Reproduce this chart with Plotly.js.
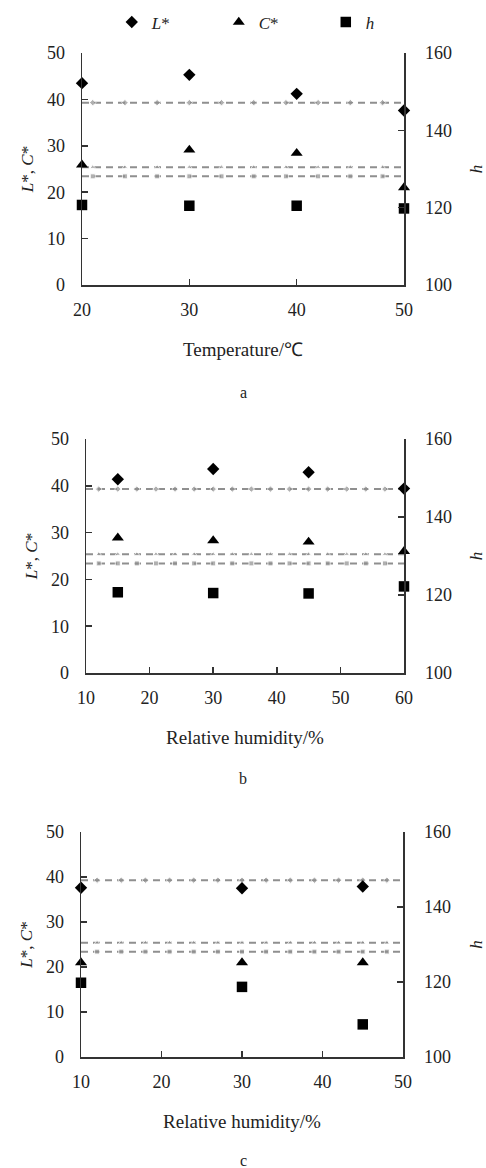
<!DOCTYPE html>
<html>
<head>
<meta charset="utf-8">
<script src="https://cdn.plot.ly/plotly-3.0.1.min.js"></script>
<style>html,body{margin:0;padding:0;background:#fff;}#chart{width:486px;height:1168px;}</style>
</head>
<body>
<div id="chart"></div>
<script>
// ---------- data ----------
// Panel a: temperature
const tempX = [20, 30, 40, 50];
const tempL = [43.5, 45.3, 41.2, 37.6];
const tempC = [25.9, 29.1, 28.4, 21.0];
const tempH = [120.7, 120.5, 120.5, 119.8];
const tempRefX = [20, 21, 24, 27, 30, 33, 36, 39, 42, 45, 48, 50];

// Panel b: relative humidity
const rhBX = [15, 30, 45, 60];
const rhBL = [41.4, 43.6, 42.9, 39.4];
const rhBC = [28.9, 28.3, 28.0, 26.0];
const rhBH = [120.7, 120.5, 120.4, 122.2];
const rhBRefX = [10, 12, 15, 18, 21, 24, 27, 30, 33, 36, 39, 42, 45, 48, 51, 54, 57, 60];

// Panel c: relative humidity
const rhCX = [10, 30, 45];
const rhCL = [37.6, 37.5, 37.9];
const rhCC = [21.0, 21.0, 21.0];
const rhCH = [119.8, 118.7, 108.7];
const rhCRefX = [10, 12, 15, 18, 21, 24, 27, 30, 33, 36, 39, 42, 45, 48, 50];

// Reference (control) levels
const refL = 39.3;
const refC = 25.4;
const refH = 128.1;

// Axis ticks / labels
const leftTicks = [0, 10, 20, 30, 40, 50];
const rightTicks = [100, 120, 140, 160];
const xTicksA = [20, 30, 40, 50];
const xTicksB = [10, 20, 30, 40, 50, 60];
const xTicksC = [10, 20, 30, 40, 50];
const xTitles = ['Temperature/℃', 'Relative humidity/%', 'Relative humidity/%'];
const panelLabels = ['a', 'b', 'c'];
const seriesNames = ['<i>L</i>*', '<i>C</i>*', '<i>h</i>'];

// ---------- styling ----------
const FONT = '"Liberation Serif", "Times New Roman", serif';
const INK = '#222';
const AX = '#333';
const GREY = '#8f8f8f';
const W = 486, H = 1168;

function px2x(p) { return p / W; }
function px2y(p) { return 1 - p / H; }

const panels = [
  { x: tempX, L: tempL, C: tempC, Hh: tempH, refX: tempRefX, range: [20, 50], ticks: xTicksA,
    box: { l: 82, r: 404, t: 53, b: 285 } },
  { x: rhBX, L: rhBL, C: rhBC, Hh: rhBH, refX: rhBRefX, range: [10, 60], ticks: xTicksB,
    box: { l: 86, r: 404, t: 439, b: 673 } },
  { x: rhCX, L: rhCL, C: rhCC, Hh: rhCH, refX: rhCRefX, range: [10, 50], ticks: xTicksC,
    box: { l: 81, r: 403, t: 832, b: 1057 } }
];

const traces = [];
const layout = {
  width: W, height: H,
  margin: { l: 0, r: 0, t: 0, b: 0, autoexpand: false },
  paper_bgcolor: '#fff', plot_bgcolor: 'rgba(0,0,0,0)',
  font: { family: FONT, size: 17, color: INK },
  showlegend: true,
  legend: {
    orientation: 'h', x: 0.230, y: px2y(22.5), xanchor: 'left', yanchor: 'middle',
    entrywidth: 62, entrywidthmode: 'pixels',
    font: { family: FONT, size: 17, color: INK }, bgcolor: 'rgba(0,0,0,0)',
    traceorder: 'normal'
  },
  annotations: []
};

const axCommon = {
  showline: true, linecolor: AX, linewidth: 1.5,
  ticks: 'inside', ticklen: 6, tickwidth: 1.5, tickcolor: AX,
  showgrid: false, zeroline: false, fixedrange: true,
  tickfont: { family: FONT, size: 18, color: INK }
};

panels.forEach((p, i) => {
  const xa = i === 0 ? 'x' : 'x' + (i + 1);
  const yL = i === 0 ? 'y' : 'y' + (2 * i + 1);
  const yR = 'y' + (2 * i + 2);
  const xKey = i === 0 ? 'xaxis' : 'xaxis' + (i + 1);
  const yLKey = i === 0 ? 'yaxis' : 'yaxis' + (2 * i + 1);
  const yRKey = 'yaxis' + (2 * i + 2);
  const b = p.box;

  layout[xKey] = Object.assign({}, axCommon, {
    domain: [px2x(b.l), px2x(b.r)], anchor: yL, range: p.range,
    tickmode: 'array', tickvals: p.ticks, ticklabelstandoff: 8,
    title: { text: xTitles[i], font: { family: FONT, size: 19, color: INK }, standoff: 23 }
  });
  layout[yLKey] = Object.assign({}, axCommon, {
    domain: [px2y(b.b), px2y(b.t)], anchor: xa, range: [0, 50],
    tickmode: 'array', tickvals: leftTicks, ticklabelstandoff: 12,
    title: { text: '<i>L</i>*, <i>C</i>*', font: { family: FONT, size: 17, color: INK }, standoff: 9 }
  });
  layout[yRKey] = Object.assign({}, axCommon, {
    domain: [px2y(b.b), px2y(b.t)], anchor: xa, overlaying: yL, side: 'right', range: [100, 160],
    tickmode: 'array', tickvals: rightTicks, ticklabelstandoff: 16,
    title: { text: '<i>h</i>', font: { family: FONT, size: 17, color: INK }, standoff: 27 }
  });

  layout.annotations.push({
    text: panelLabels[i], xref: 'paper', yref: 'paper',
    x: px2x(243), y: px2y([392, 778, 1160][i]), showarrow: false,
    font: { family: FONT, size: 16, color: INK }, xanchor: 'center', yanchor: 'middle'
  });

  const sizes = p.refX.map((v, k) => (k === 0 || k === p.refX.length - 1) ? 0 : 5);
  // reference lines
  const refs = [
    { y: p.refX.map(() => refL), sym: 'diamond', ya: yL },
    { y: p.refX.map(() => refC), sym: 'triangle-up', ya: yL },
    { y: p.refX.map(() => refH), sym: 'square', ya: yR }
  ];
  refs.forEach(r => {
    traces.push({
      type: 'scatter', mode: 'lines+markers', x: p.refX, y: r.y, xaxis: xa, yaxis: r.ya,
      line: { color: GREY, width: 2, dash: '7px,5px' },
      marker: { symbol: r.sym, size: sizes, color: GREY },
      showlegend: false, hoverinfo: 'skip', cliponaxis: false
    });
  });
  // data points
  const ser = [
    { y: p.L, sym: 'diamond', size: 9.5, ya: yL },
    { y: p.C, sym: 'triangle-up', size: 10.5, ya: yL },
    { y: p.Hh, sym: 'square', size: 10.5, ya: yR }
  ];
  ser.forEach((s, k) => {
    traces.push({
      type: 'scatter', mode: 'markers', x: p.x, y: s.y, xaxis: xa, yaxis: s.ya,
      name: seriesNames[k], marker: { symbol: s.sym, size: s.size, color: '#000' },
      showlegend: i === 0, cliponaxis: false
    });
  });
});

Plotly.newPlot('chart', traces, layout, { staticPlot: true, displayModeBar: false });
</script>
</body>
</html>
